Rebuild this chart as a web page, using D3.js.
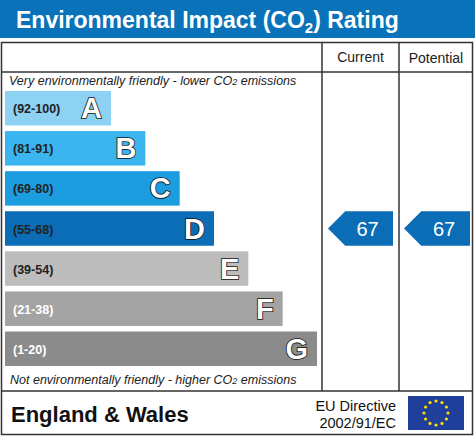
<!DOCTYPE html>
<html><head><meta charset="utf-8">
<script src="https://cdn.jsdelivr.net/npm/d3@7"></script>
<style>body{margin:0;background:#fff}</style>
</head><body><svg id="chart"></svg>
<script>
const bands = ['A','B','C','D','E','F','G'];
const ranges = ['(92-100)','(81-91)','(69-80)','(55-68)','(39-54)','(21-38)','(1-20)'];
const colors = ['#8dd1f3','#3ab5ef','#1c9de0','#0a6db6','#bcbcbc','#a3a3a3','#8b8b8b'];
const labelColors = ['#222','#222','#222','#222','#222','#fff','#fff'];
const lengths = [1,2,3,4,5,6,7];
const current = 67, potential = 67;
const lower = [92,81,69,55,39,21,1];

const W = 475, H = 437;
const svg = d3.select('#chart').attr('width', W).attr('height', H)
  .style('font-family', 'Liberation Sans, Arial, sans-serif');

svg.append('rect').attr('x',0).attr('y',0).attr('width',W).attr('height',38).attr('fill','#0a72b8');
svg.append('text').attr('x',16).attr('y',28).attr('fill','#fff').attr('font-size',23).attr('font-weight','bold')
  .html('Environmental Impact (CO<tspan font-size="15" dy="5">2</tspan><tspan dy="-5">) Rating</tspan>');

const colA = 322, colB = 399;
const g = svg.append('g');
g.append('rect').attr('x',1.5).attr('y',42.5).attr('width',471).attr('height',392)
  .attr('fill','none').attr('stroke','#333').attr('stroke-width',1.5);
g.append('line').attr('x1',1).attr('x2',473).attr('y1',72).attr('y2',72).attr('stroke','#333').attr('stroke-width',1.5);
g.append('line').attr('x1',1).attr('x2',473).attr('y1',391).attr('y2',391).attr('stroke','#333').attr('stroke-width',1.5);
[colA, colB].forEach(x => g.append('line').attr('x1',x).attr('x2',x).attr('y1',42).attr('y2',391).attr('stroke','#333').attr('stroke-width',1.5));
g.append('text').attr('x',(colA+colB)/2).attr('y',62).attr('text-anchor','middle').attr('font-size',14).attr('fill','#222').text('Current');
g.append('text').attr('x',(colB+473)/2).attr('y',63).attr('text-anchor','middle').attr('font-size',14).attr('fill','#222').text('Potential');

g.append('text').attr('x',9).attr('y',85).attr('font-size',12.5).attr('font-style','italic').attr('fill','#222')
  .html('Very environmentally friendly - lower CO<tspan font-size="9">2</tspan> emissions');
g.append('text').attr('x',10).attr('y',384).attr('font-size',12.5).attr('font-style','italic').attr('fill','#222')
  .html('Not environmentally friendly - higher CO<tspan font-size="9">2</tspan> emissions');

const y = d3.scaleBand().domain(bands).range([91, 366]).paddingInner(0.14).paddingOuter(0);
const x = d3.scaleLinear().domain([1, 7]).range([106, 312]);

const bar = g.selectAll('g.bar').data(bands).enter().append('g');
bar.append('rect').attr('x', 5).attr('y', d => y(d)).attr('height', y.bandwidth())
  .attr('width', (d,i) => x(lengths[i]))
  .attr('fill', (d,i) => colors[i]);
bar.append('text').attr('x', 13).attr('y', d => y(d) + y.bandwidth()/2 + 5)
  .attr('font-size', 12.5).attr('font-weight','bold').attr('fill', (d,i) => labelColors[i])
  .text((d,i) => ranges[i]);
bar.append('text')
  .attr('x', (d,i) => x(lengths[i]) - 4)
  .attr('y', d => y(d) + y.bandwidth()/2 + 10)
  .attr('text-anchor','end').attr('font-size', 29).attr('font-weight','bold')
  .attr('fill','#fff').attr('stroke','#111').attr('stroke-width',1.6).attr('paint-order','stroke')
  .text(d => d);

function bandOf(v){ return bands[lower.findIndex(l => v >= l)]; }
function arrow(v, x0, x1){
  const b = bandOf(v), yt = y(b), h = y.bandwidth();
  const pts = [[x0, yt+h/2],[x0+h/2, yt],[x1, yt],[x1, yt+h],[x0+h/2, yt+h]];
  g.append('polygon').attr('points', pts.map(p=>p.join(',')).join(' '))
    .attr('fill', colors[bands.indexOf(b)]);
  g.append('text').attr('x', (x0+x1)/2 + 7).attr('y', yt+h/2+7).attr('text-anchor','middle')
    .attr('font-size', 20).attr('fill','#fff').text(v);
}
arrow(current, 328, 393);
arrow(potential, 404, 470);

svg.append('text').attr('x',11).attr('y',422).attr('font-size',22).attr('font-weight','bold').attr('fill','#111').text('England & Wales');
svg.append('text').attr('x',396).attr('y',411).attr('text-anchor','end').attr('font-size',14.5).attr('fill','#111').text('EU Directive');
svg.append('text').attr('x',396).attr('y',428).attr('text-anchor','end').attr('font-size',14.5).attr('fill','#111').text('2002/91/EC');
const fx = 408, fy = 396, fw = 56, fh = 34;
svg.append('rect').attr('x',fx).attr('y',fy).attr('width',fw).attr('height',fh).attr('fill','#1f3f9a');
svg.selectAll('circle.star').data(d3.range(12)).enter().append('circle')
  .attr('cx', k => fx+fw/2 + 12*Math.cos(k*Math.PI/6))
  .attr('cy', k => fy+fh/2 + 12*Math.sin(k*Math.PI/6))
  .attr('r', 1.6).attr('fill','#ffe000');
</script></body></html>
